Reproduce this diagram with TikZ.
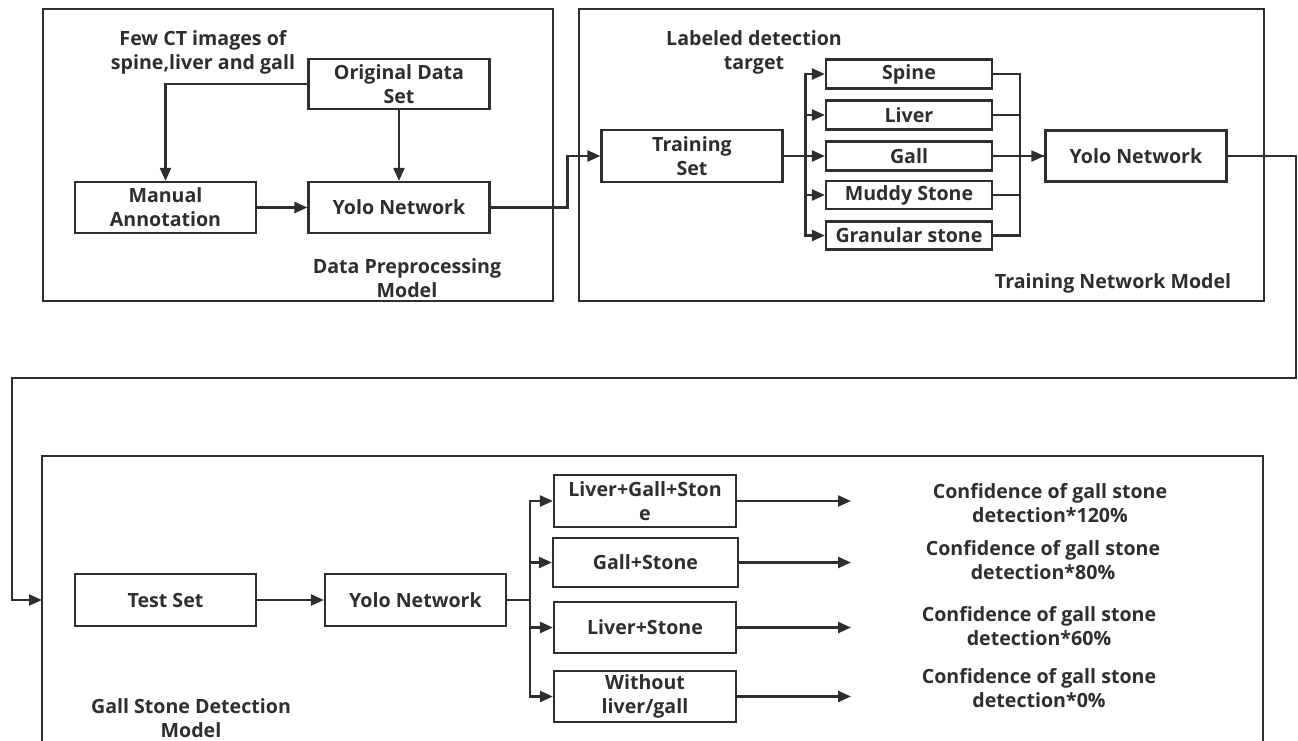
\documentclass[tikz,border=0pt]{standalone}
\usepackage{fontspec}
\setmainfont{Open Sans}
\usetikzlibrary{arrows.meta,positioning}
\colorlet{ink}{black!82}

\begin{document}
\begin{tikzpicture}[
    x=1pt, y=-1pt,
    every node/.style={font=\fontsize{19.6}{24}\selectfont\bfseries, text=ink},
    block/.style={draw=ink, line width=2.2pt, align=center, inner sep=0pt,
        minimum width=181pt, minimum height=51pt},
    tag/.style={draw=ink, line width=2.2pt, align=center, inner sep=0pt,
        minimum width=166pt, minimum height=29pt},
    note/.style={align=center},
    frame/.style={draw=ink, line width=2.2pt},
    wire/.style={draw=ink, line width=2.4pt},
    link/.style={wire, -{Triangle[length=13pt,width=11pt]}}
    ]
\useasboundingbox (0,0) rectangle (1298,740);

% outer frames
\draw[frame] (43,9) rectangle (553,301);
\draw[frame] (579,9) rectangle (1264,301);
\draw[frame] (42,760) |- (1263,456) -- (1263,760);

% data preprocessing
\node[block, minimum height=50pt] (orig) at (399,84) {Original Data\\Set};
\node[block] (manual) at (165.5,207.5) {Manual\\Annotation};
\node[block] (yolo1) at (399,207.5) {Yolo Network};
\node[note] (fewct) at (203,52) {Few CT images of\\spine,liver and gall};
\node[note] (prep) at (407,278) {Data Preprocessing\\Model};

\draw[link] (orig.west) -| (manual.north);
\draw[link] (orig) -- (yolo1);
\draw[link] (manual) -- (yolo1);

% training
\node[block, minimum height=52pt] (train) at (692,156) {Training\\Set};
\node[tag] (spine) at (909,74) {Spine};
\node[tag] (liver) at (909,115) {Liver};
\node[tag] (gall) at (909,156) {Gall};
\node[tag, minimum height=28pt] (muddy) at (909,195) {Muddy Stone};
\node[tag, minimum height=28pt] (granular) at (909,235.5) {Granular stone};
\node[block] (yolo2) at (1136,156) {Yolo Network};
\node[note] (labeled) at (754,52) {Labeled detection\\target};
\node[note] (trainmodel) at (1113,283) {Training Network Model};

\draw[link] (yolo1.east) -- ++(77,0) |- (train.west);
\foreach \t in {spine,liver,gall,muddy,granular} {
    \draw[link] (train.east) -- ++(22,0) |- (\t.west);
    \draw[wire] (\t.east) -- ++(27,0) |- (yolo2.west);
}
\draw[link] (gall.east) -- (yolo2.west);

% detection
\coordinate (turn) at (1296,378);
\coordinate (entry) at (42,600);
\node[block, minimum height=52pt] (test) at (165.5,600) {Test Set};
\node[block, minimum height=52pt] (yolo3) at (415.5,600) {Yolo Network};
\node[block, minimum width=182pt, minimum height=52pt] (lgs) at (645,501) {Liver+Gall+Ston\\e};
\node[block, minimum width=185pt, minimum height=49pt] (gs) at (645.5,562.5) {Gall+Stone};
\node[block, minimum width=182pt] (ls) at (645,627.5) {Liver+Stone};
\node[block, minimum width=182pt] (wo) at (645,696.5) {Without\\liver/gall};
\node[note] (gsmodel) at (191,718) {Gall Stone Detection\\Model};

\draw[link] (yolo2.east) -| (turn) -| (12,600) -- (entry);
\draw[link] (test) -- (yolo3);
\foreach \b in {lgs,gs,ls,wo}
    \draw[link] (yolo3.east) -- ++(23,0) |- (\b.west);

\foreach \b/\p/\x/\y in {lgs/120/1050/503, gs/80/1043/560, ls/60/1039/626, wo/0/1039/688} {
    \coordinate (out-\b) at (851,0 |- \b.east);
    \node[note] (conf-\b) at (\x,\y) {Confidence of gall stone\\detection*\p\%};
    \draw[link] (\b.east) -- (out-\b);
}
\end{tikzpicture}
\end{document}
